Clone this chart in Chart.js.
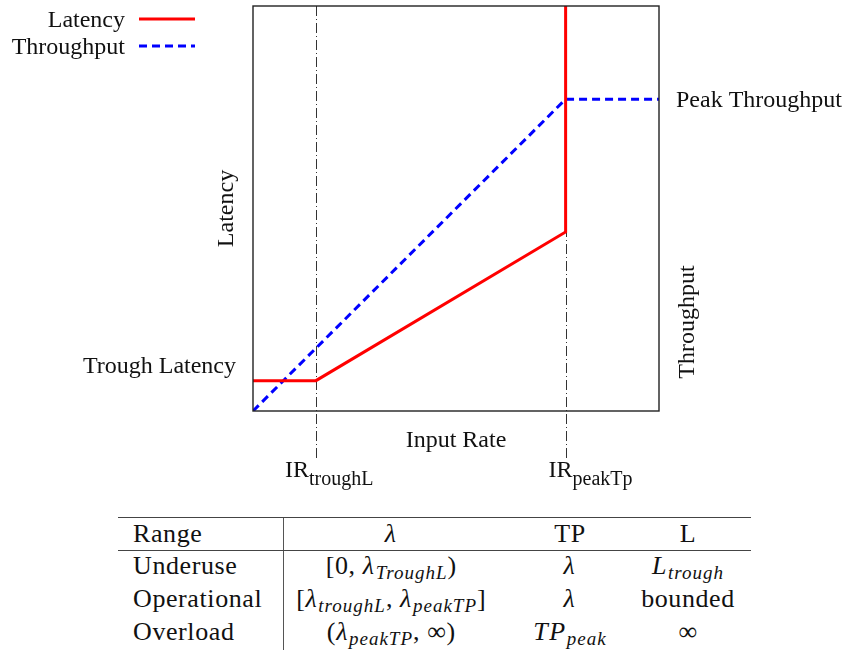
<!DOCTYPE html>
<html>
<head>
<meta charset="utf-8">
<script src="https://cdn.jsdelivr.net/npm/chart.js@4.4.1/dist/chart.umd.min.js"></script>
<style>
  html, body { margin: 0; padding: 0; background: #fff; }
  #wrap { position: relative; width: 847px; height: 650px; }
  #plot { position: absolute; left: 0; top: 0; width: 847px; height: 500px; }
  table.ranges {
    position: absolute; left: 118px; top: 517px; width: 633px;
    border-collapse: collapse; table-layout: fixed;
    font-family: 'Liberation Serif', serif;
    font-size: 26px; color: #111; letter-spacing: 0.6px;
  }
  table.ranges th, table.ranges td {
    font-weight: normal; padding: 0 0 3px 0; height: 30px; line-height: 26px;
    text-align: center; white-space: nowrap; vertical-align: middle;
  }
  table.ranges tr.head th { border-top: 1.3px solid #444; border-bottom: 1.3px solid #444; height: 32px; padding-bottom: 0; }
  table.ranges tr.last td { border-bottom: 1.3px solid #444; }
  table.ranges .c1 { text-align: left; padding-left: 15px; }
  table.ranges .c2 { border-left: 1.3px solid #555; }
  table.ranges .c4 { padding-right: 16px; }
  table.ranges i { letter-spacing: 1.6px; }
  table.ranges sub { font-size: 19px; vertical-align: -5px; line-height: 0; letter-spacing: 1px; }
</style>
</head>
<body>
<div id="wrap">
  <div id="plot"><canvas id="chart"></canvas></div>
  <table class="ranges">
    <colgroup>
      <col style="width:165px"><col style="width:216px"><col style="width:142px"><col style="width:110px">
    </colgroup>
    <tr class="head"><th class="c1">Range</th><th class="c2"><i>λ</i></th><th class="c3">TP</th><th class="c4">L</th></tr>
    <tr><td class="c1">Underuse</td><td class="c2">[0, <i>λ<sub>TroughL</sub></i>)</td><td class="c3"><i>λ</i></td><td class="c4"><i>L<sub>trough</sub></i></td></tr>
    <tr><td class="c1">Operational</td><td class="c2">[<i>λ<sub>troughL</sub></i>, <i>λ<sub>peakTP</sub></i>]</td><td class="c3"><i>λ</i></td><td class="c4">bounded</td></tr>
    <tr class="last"><td class="c1">Overload</td><td class="c2">(<i>λ<sub>peakTP</sub></i>, ∞)</td><td class="c3"><i>TP<sub>peak</sub></i></td><td class="c4">∞</td></tr>
  </table>
</div>
<script>
// input rate axis runs 0..100, latency / throughput axis runs 0..100
const latencyX = [0, 15.5, 77, 77];
const latencyY = [7.5, 7.5, 44.2, 100];
const throughputX = [0, 77, 100];
const throughputY = [0, 77, 77];

// reference input rates marked below the axis
const markerRates = [15.5, 77];
const markerNames = ['IR', 'IR'];
const markerSubs = ['troughL', 'peakTp'];

const troughLatency = 7.5;
const peakThroughput = 77;

const serif = "'Liberation Serif', serif";
const RED = '#ff0000';
const BLUE = '#0000ff';

const toPoints = (xs, ys) => xs.map((x, i) => ({ x, y: ys[i] }));

const annotations = {
  id: 'annotations',
  beforeDatasetsDraw(chart) {
    const { ctx, chartArea: a, scales } = chart;
    ctx.save();
    ctx.strokeStyle = '#333';
    ctx.lineWidth = 1;
    ctx.setLineDash([10, 3, 1, 3]);
    markerRates.forEach(r => {
      const px = Math.round(scales.x.getPixelForValue(r)) + 0.5;
      ctx.beginPath();
      ctx.moveTo(px, a.top);
      ctx.lineTo(px, a.bottom + 47);
      ctx.stroke();
    });
    ctx.restore();
  },
  afterDatasetsDraw(chart) {
    const { ctx, chartArea: a, scales } = chart;
    ctx.save();
    // frame
    ctx.strokeStyle = '#222';
    ctx.lineWidth = 1.4;
    ctx.strokeRect(a.left, a.top, a.right - a.left, a.bottom - a.top);

    ctx.fillStyle = '#111';
    ctx.font = '24px ' + serif;
    ctx.textBaseline = 'alphabetic';

    // axis titles
    ctx.textAlign = 'center';
    ctx.fillText('Input Rate', (a.left + a.right) / 2, a.bottom + 36);

    ctx.save();
    ctx.translate(a.left - 20, (a.top + a.bottom) / 2);
    ctx.rotate(-Math.PI / 2);
    ctx.fillText('Latency', 0, 0);
    ctx.restore();

    ctx.save();
    ctx.translate(a.right + 35, 322);
    ctx.rotate(-Math.PI / 2);
    ctx.fillText('Throughput', 0, 0);
    ctx.restore();

    // level labels
    ctx.textAlign = 'right';
    ctx.fillText('Trough Latency', a.left - 17, scales.y.getPixelForValue(troughLatency) - 8);
    ctx.textAlign = 'left';
    ctx.fillText('Peak Throughput', a.right + 17, scales.y.getPixelForValue(peakThroughput) + 8);

    // marker labels with subscripts
    const labelShift = [-31, -17];
    markerRates.forEach((r, i) => {
      const x0 = scales.x.getPixelForValue(r) + labelShift[i];
      ctx.textAlign = 'left';
      ctx.font = '24px ' + serif;
      const w1 = ctx.measureText(markerNames[i]).width;
      ctx.fillText(markerNames[i], x0, a.bottom + 66);
      ctx.font = '20px ' + serif;
      ctx.fillText(markerSubs[i], x0 + w1, a.bottom + 74);
    });

    // legend
    ctx.font = '24px ' + serif;
    ctx.textAlign = 'right';
    chart.data.datasets.forEach((ds, i) => {
      const y = 19 + i * 27;
      ctx.fillText(ds.label, 125, y + 8);
      ctx.strokeStyle = ds.borderColor;
      ctx.lineWidth = ds.borderWidth;
      ctx.setLineDash(ds.borderDash || []);
      ctx.beginPath();
      ctx.moveTo(139, y);
      ctx.lineTo(195, y);
      ctx.stroke();
    });
    ctx.restore();
  }
};

new Chart(document.getElementById('chart'), {
  type: 'scatter',
  data: {
    datasets: [
      {
        label: 'Latency',
        data: toPoints(latencyX, latencyY),
        showLine: true,
        borderColor: RED,
        borderWidth: 3,
        pointRadius: 0,
        tension: 0
      },
      {
        label: 'Throughput',
        data: toPoints(throughputX, throughputY),
        showLine: true,
        borderColor: BLUE,
        borderWidth: 3,
        borderDash: [8, 5],
        pointRadius: 0,
        tension: 0
      }
    ]
  },
  options: {
    responsive: true,
    maintainAspectRatio: false,
    animation: false,
    layout: { padding: { left: 253, top: 6, right: 188, bottom: 89 } },
    scales: {
      x: { type: 'linear', min: 0, max: 100, display: false },
      y: { type: 'linear', min: 0, max: 100, display: false }
    },
    plugins: {
      legend: { display: false },
      tooltip: { enabled: false }
    }
  },
  plugins: [annotations]
});
</script>
</body>
</html>
